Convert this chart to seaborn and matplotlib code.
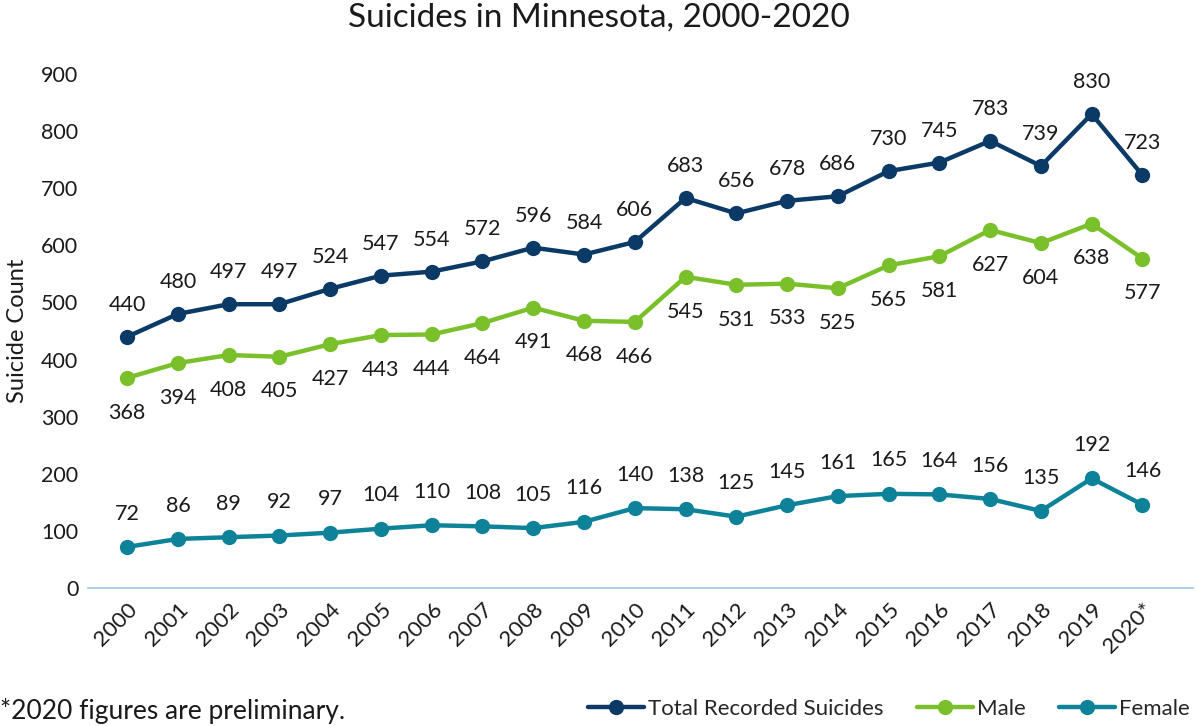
import numpy as np
import pandas as pd
import seaborn as sns
import matplotlib.pyplot as plt

years = ["2000", "2001", "2002", "2003", "2004", "2005", "2006", "2007", "2008", "2009", "2010",
         "2011", "2012", "2013", "2014", "2015", "2016", "2017", "2018", "2019", "2020*"]
total = [440, 480, 497, 497, 524, 547, 554, 572, 596, 584, 606,
         683, 656, 678, 686, 730, 745, 783, 739, 830, 723]
male = [368, 394, 408, 405, 427, 443, 444, 464, 491, 468, 466,
        545, 531, 533, 525, 565, 581, 627, 604, 638, 577]
female = [72, 86, 89, 92, 97, 104, 110, 108, 105, 116, 140,
          138, 125, 145, 161, 165, 164, 156, 135, 192, 146]
series_names = ["Total Recorded Suicides", "Male", "Female"]
colors = ["#0B3A66", "#7AC02B", "#0E8299"]

sns.set_style("white")
plt.rcParams["font.family"] = ["Lato", "DejaVu Sans"]

df = pd.DataFrame({
    "idx": list(range(len(years))) * 3,
    "count": total + male + female,
    "series": [series_names[0]] * len(years) + [series_names[1]] * len(years) + [series_names[2]] * len(years),
})

fig = plt.figure(figsize=(11.98, 7.26), dpi=100)
ax = fig.add_axes([0.0735, 0.19, 0.9225, 0.708])

sns.lineplot(data=df, x="idx", y="count", hue="series", palette=colors,
             marker="o", markersize=11, markeredgewidth=0, linewidth=3.2,
             legend=False, ax=ax)

offsets = [23, -25, 24]
for vals, off in zip([total, male, female], offsets):
    for i, v in enumerate(vals):
        ax.annotate(str(v), (i, v), xytext=(0, off), textcoords="offset points",
                    ha="center", va="center", fontsize=15.5, color="#1a1a1a")

ax.set_xlim(-0.77, 21.0)
ax.set_ylim(0, 900)
ax.set_yticks(range(0, 901, 100))
ax.set_xticks(range(len(years)))
ax.set_xticklabels(years, rotation=45, ha="right", rotation_mode="anchor", fontsize=16)
ax.tick_params(axis="y", labelsize=15.5, length=0, pad=7)
ax.tick_params(axis="x", length=0, pad=8)
for lbl in ax.get_yticklabels():
    lbl.set_color("#1a1a1a")
for lbl in ax.get_xticklabels():
    lbl.set_color("#1a1a1a")
for s in ["top", "right", "left"]:
    ax.spines[s].set_visible(False)
ax.spines["bottom"].set_color("#9DC3E6")
ax.spines["bottom"].set_linewidth(1.2)
ax.set_xlabel("")
ax.set_ylabel("Suicide Count", fontsize=17, color="#1a1a1a")
ax.yaxis.set_label_coords(-0.054, 0.5)

fig.suptitle("Suicides in Minnesota, 2000-2020", fontsize=24, y=0.997, x=0.5, color="#1a1a1a")

fig.text(0.0, 0.02, "*2020 figures are preliminary.", fontsize=19, color="#1a1a1a", va="center")

handles = [plt.Line2D([0], [0], color=c, lw=3.2, marker="o", markersize=11, markeredgewidth=0)
           for c in colors]
fig.legend(handles, series_names, loc="lower right", bbox_to_anchor=(1.01, -0.018), ncol=3,
           frameon=False, fontsize=16, handlelength=2.5, handletextpad=0.2, columnspacing=1.5)

fig.savefig("out.png", dpi=100)
